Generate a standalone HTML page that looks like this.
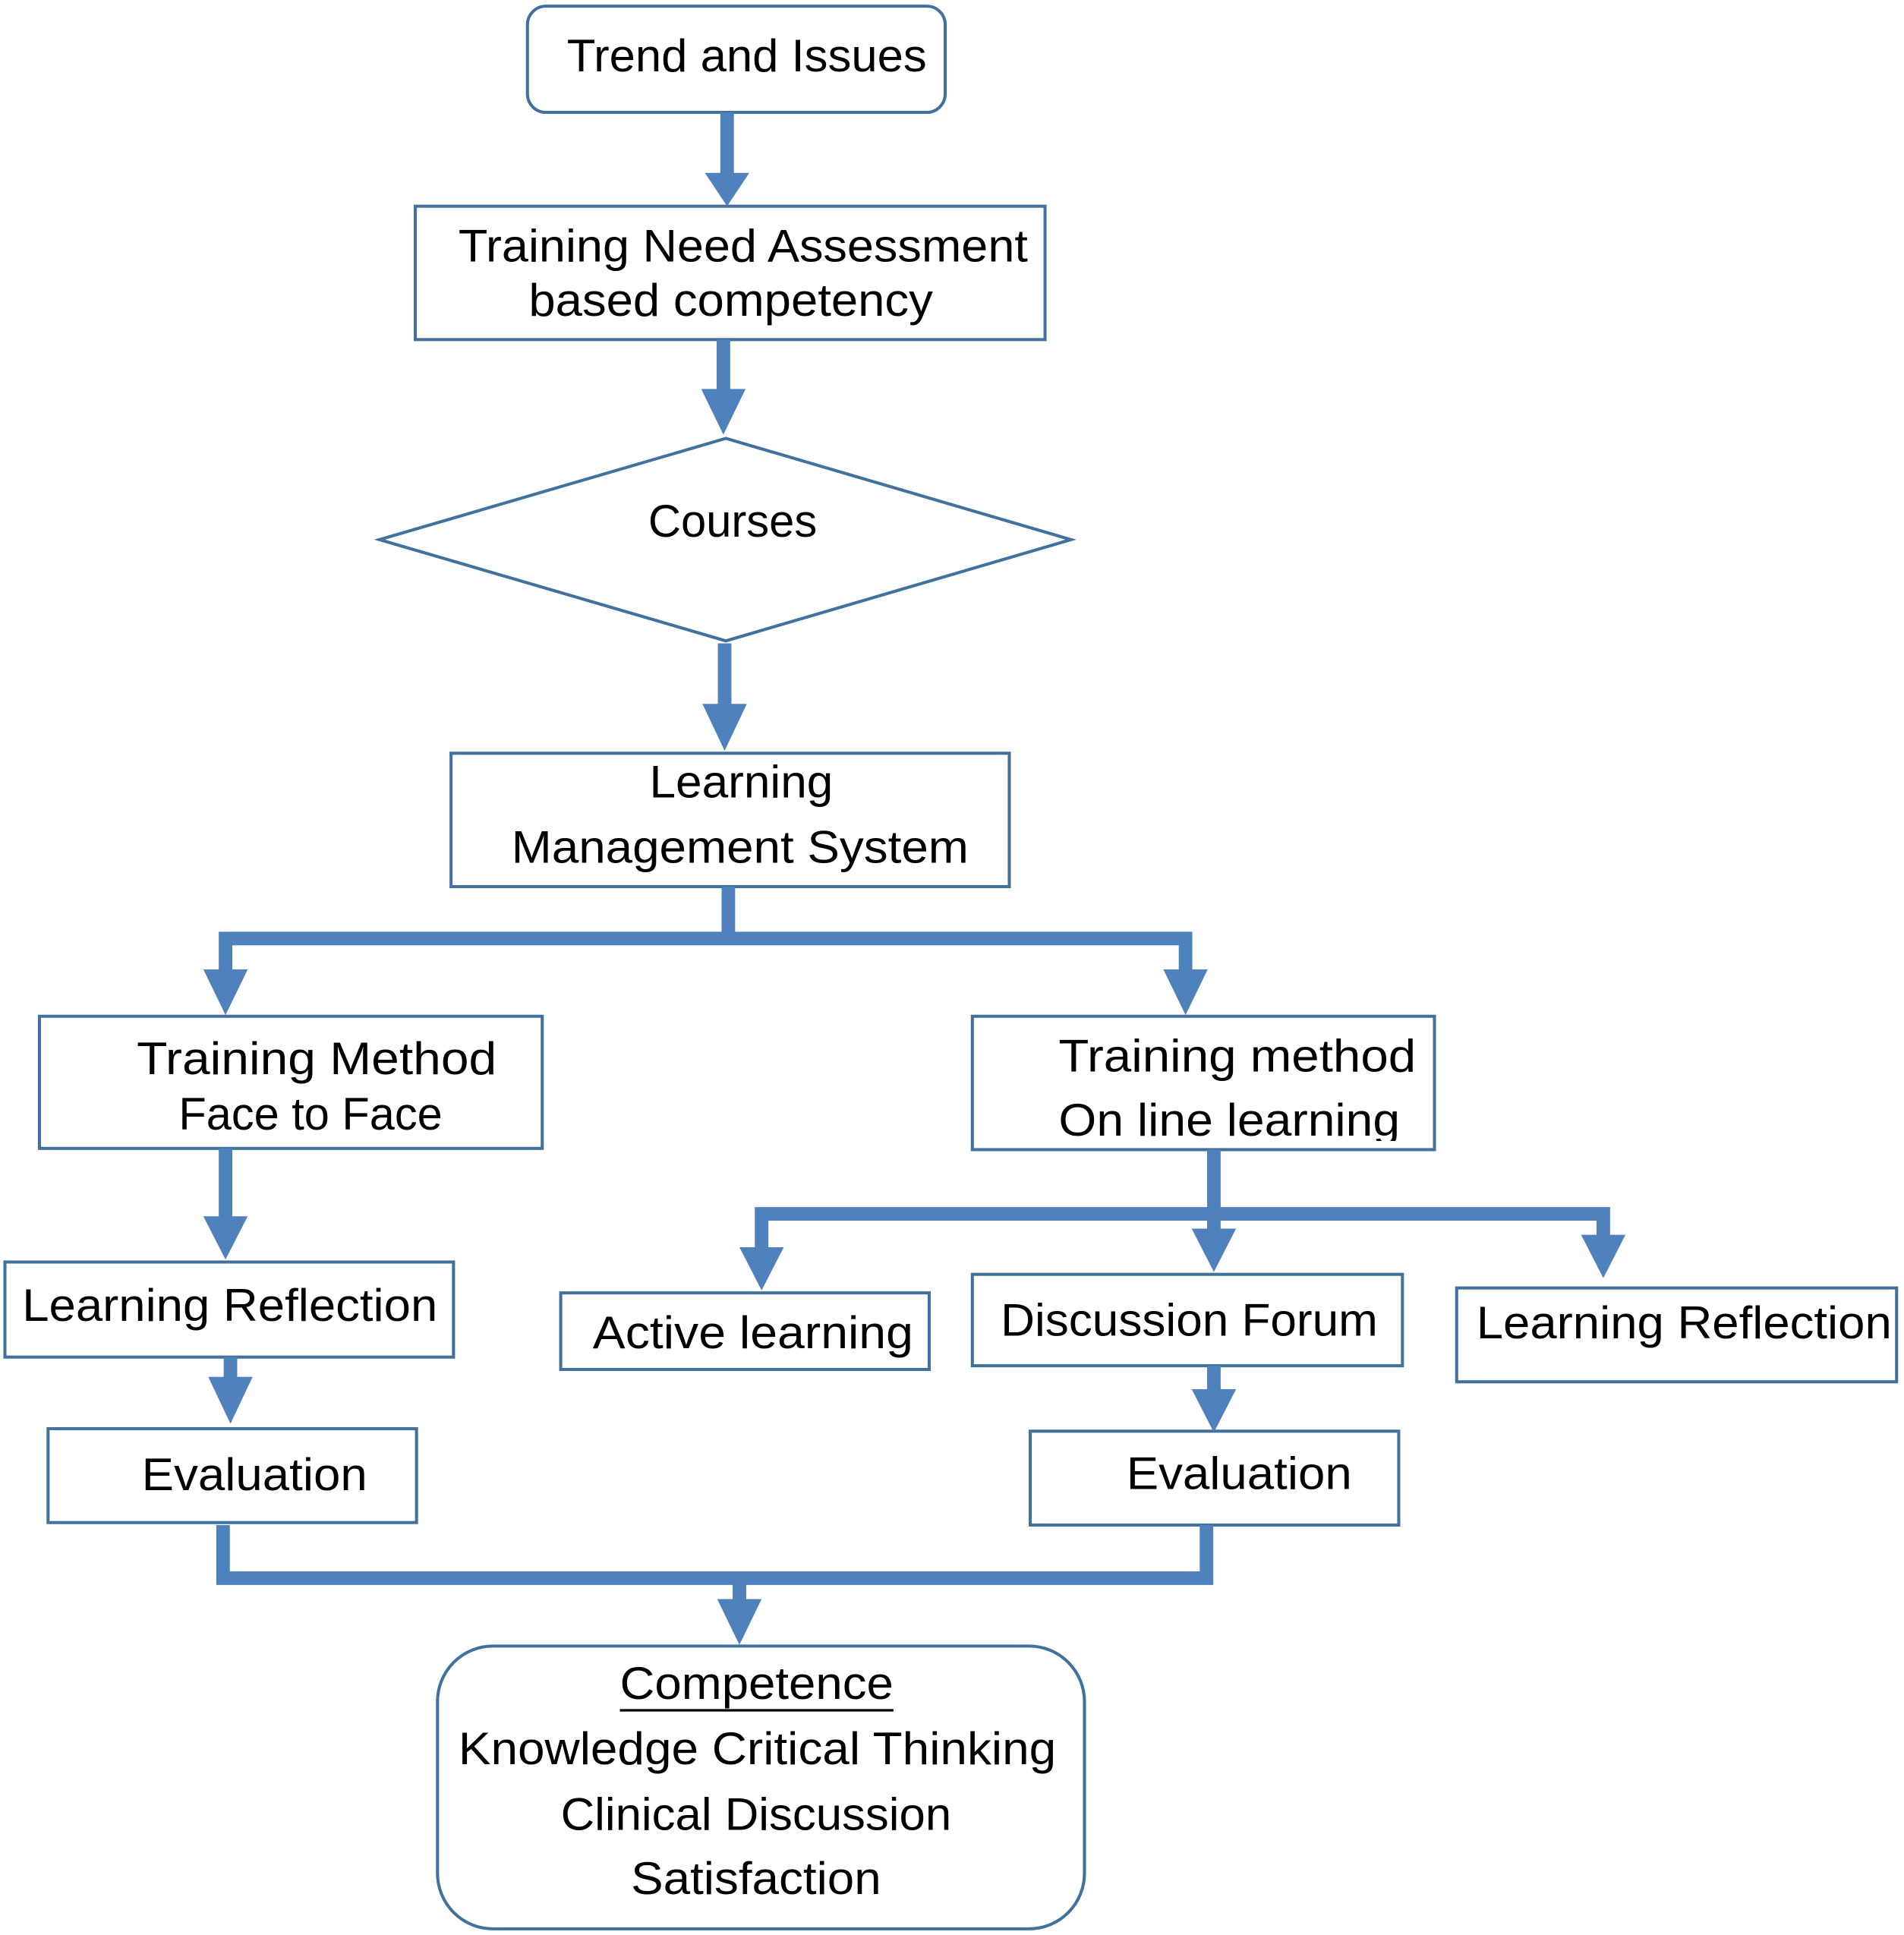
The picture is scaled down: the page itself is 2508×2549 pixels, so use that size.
<!DOCTYPE html>
<html><head><meta charset="utf-8"><style>html,body{margin:0;padding:0;background:#fff}svg{display:block}</style></head>
<body>
<svg width="2508" height="2549" viewBox="0 0 1545 1567" preserveAspectRatio="none" xmlns="http://www.w3.org/2000/svg">
<defs><clipPath id="c"><rect x="789" y="823" width="375" height="101"/></clipPath></defs>
<g fill="none" stroke="#41719c" stroke-width="2.5">
<rect x="428" y="5" width="339" height="86" rx="15"/>
<rect x="337" y="167" width="511" height="108"/>
<polygon points="308,437 589,355 869,437 589,519"/>
<rect x="366" y="610" width="453" height="108"/>
<rect x="32" y="823" width="408" height="107"/>
<rect x="789" y="823" width="375" height="108"/>
<rect x="4" y="1022" width="364" height="77"/>
<rect x="39" y="1157" width="299" height="76"/>
<rect x="455" y="1047" width="299" height="62"/>
<rect x="789" y="1032" width="349" height="74"/>
<rect x="1182" y="1043" width="357" height="76"/>
<rect x="836" y="1159" width="299" height="76"/>
<rect x="355" y="1333" width="525" height="229" rx="45"/>
</g>
<g stroke="#4f81bd" stroke-width="11" fill="none">
<line x1="590" y1="91" x2="590" y2="142"/>
<line x1="587" y1="275" x2="587" y2="318"/>
<line x1="588" y1="521" x2="588" y2="572"/>
<polyline points="591,718 591,760"/>
<polyline points="183,790 183,760 962,760 962,790"/>
<line x1="183" y1="930" x2="183" y2="988"/>
<line x1="187" y1="1099" x2="187" y2="1118"/>
<line x1="985" y1="931" x2="985" y2="998"/>
<polyline points="618,1013 618,983 1301,983 1301,1003"/>
<line x1="985" y1="1106" x2="985" y2="1128"/>
<polyline points="181,1235 181,1278 979,1278 979,1235"/>
<line x1="600" y1="1278" x2="600" y2="1298"/>
</g>
<g fill="#4f81bd">
<polygon points="572,140 608,140 590,167"/>
<polygon points="569,315 605,315 587,352"/>
<polygon points="570,570 606,570 588,608"/>
<polygon points="165,785 201,785 183,822"/>
<polygon points="944,785 980,785 962,822"/>
<polygon points="165,985 201,985 183,1020"/>
<polygon points="169,1115 205,1115 187,1153"/>
<polygon points="600,1010 636,1010 618,1045"/>
<polygon points="967,995 1003,995 985,1030"/>
<polygon points="1283,1000 1319,1000 1301,1035"/>
<polygon points="967,1125 1003,1125 985,1160"/>
<polygon points="582,1295 618,1295 600,1332"/>
</g>
<g font-family="Liberation Sans, sans-serif" font-size="37" fill="#000" dominant-baseline="middle" lengthAdjust="spacingAndGlyphs">
<text x="460" y="48" textLength="292" lengthAdjust="spacingAndGlyphs">Trend and Issues</text>
<text x="372" y="202" textLength="462" lengthAdjust="spacingAndGlyphs">Training Need Assessment</text>
<text x="429" y="246" textLength="328" lengthAdjust="spacingAndGlyphs">based competency</text>
<text x="526" y="425" textLength="137" lengthAdjust="spacingAndGlyphs">Courses</text>
<text x="527" y="636" textLength="149" lengthAdjust="spacingAndGlyphs">Learning</text>
<text x="415" y="689" textLength="371" lengthAdjust="spacingAndGlyphs">Management System</text>
<text x="111" y="860" textLength="292" lengthAdjust="spacingAndGlyphs">Training Method</text>
<text x="145" y="905" textLength="214" lengthAdjust="spacingAndGlyphs">Face to Face</text>
<text x="859" y="858" textLength="290" lengthAdjust="spacingAndGlyphs">Training method</text>
<text x="859" y="910" textLength="277" lengthAdjust="spacingAndGlyphs" clip-path="url(#c)">On line learning</text>
<text x="18" y="1060" textLength="337" lengthAdjust="spacingAndGlyphs">Learning Reflection</text>
<text x="115" y="1197" textLength="183" lengthAdjust="spacingAndGlyphs">Evaluation</text>
<text x="481" y="1082" textLength="260" lengthAdjust="spacingAndGlyphs">Active learning</text>
<text x="812" y="1072" textLength="306" lengthAdjust="spacingAndGlyphs">Discussion Forum</text>
<text x="1198" y="1074" textLength="337" lengthAdjust="spacingAndGlyphs">Learning Reflection</text>
<text x="914" y="1196" textLength="183" lengthAdjust="spacingAndGlyphs">Evaluation</text>
<text x="503" y="1366" textLength="222" lengthAdjust="spacingAndGlyphs">Competence</text>
<text x="372" y="1419" textLength="485" lengthAdjust="spacingAndGlyphs">Knowledge Critical Thinking</text>
<text x="455" y="1472" textLength="317" lengthAdjust="spacingAndGlyphs">Clinical Discussion</text>
<text x="512" y="1524" textLength="203" lengthAdjust="spacingAndGlyphs">Satisfaction</text>
</g>
<line x1="503" y1="1385" x2="725" y2="1385" stroke="#000" stroke-width="2"/>
</svg>
</body></html>
